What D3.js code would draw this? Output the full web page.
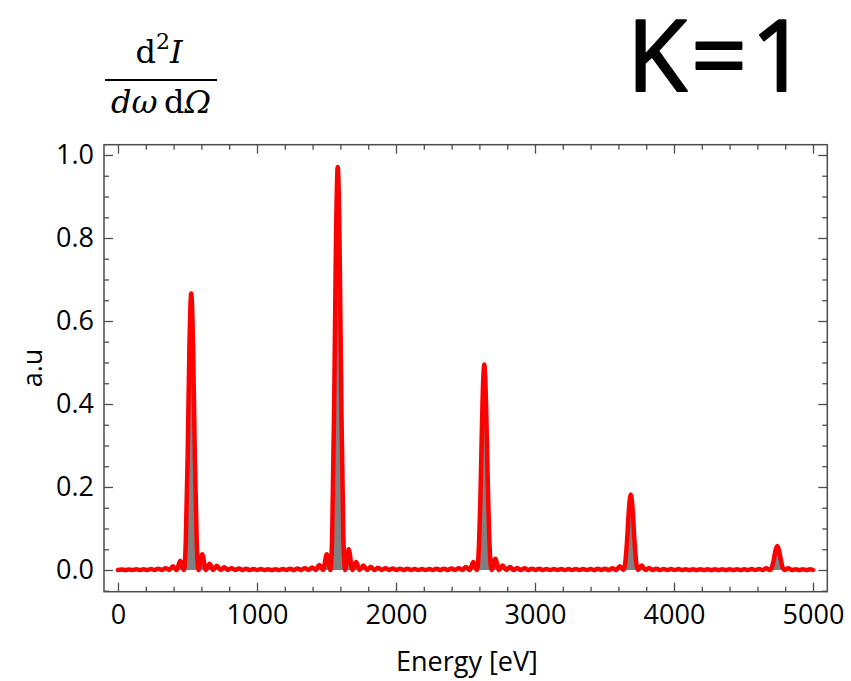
<!DOCTYPE html>
<html>
<head>
<meta charset="utf-8">
<script src="https://cdn.jsdelivr.net/npm/d3@7/dist/d3.min.js"></script>
<style>
  html, body { margin: 0; padding: 0; background: #fff; }
  svg { display: block; }
</style>
</head>
<body>
<svg id="chart" width="851" height="681"></svg>
<script>
// ---- data ----
const energy = [
  0, 26, 53, 79, 105, 132, 158, 184, 211, 237, 264, 290, 316, 343, 369, 395, 422, 448, 474,
  487, 501, 514, 527, 540, 553, 567,
  580, 606, 632, 659, 685, 711, 738, 764, 791, 817, 843, 870, 896, 922, 949, 975, 1001, 1028,
  1054, 1080, 1107, 1133, 1159, 1186, 1212, 1238, 1265, 1291, 1318, 1344, 1370, 1397, 1423,
  1449, 1476, 1502, 1528,
  1541, 1555, 1568, 1581, 1594, 1607, 1621,
  1634, 1660, 1686, 1713, 1739, 1765, 1792, 1818, 1845, 1871, 1897, 1924, 1950, 1976, 2003,
  2029, 2055, 2082, 2108, 2134, 2161, 2187, 2213, 2240, 2266, 2292, 2319, 2345, 2372, 2398,
  2424, 2451, 2477, 2503, 2530, 2556, 2582,
  2595, 2609, 2622, 2635, 2648, 2661, 2675,
  2688, 2714, 2741, 2767, 2793, 2820, 2846, 2872, 2899, 2925, 2951, 2978, 3004, 3030, 3057,
  3083, 3109, 3136, 3162, 3188, 3215, 3241, 3267, 3294, 3320, 3346, 3373, 3399, 3425, 3452,
  3478, 3504, 3531, 3557, 3583, 3610, 3636,
  3649, 3663, 3676, 3689, 3702, 3715, 3729,
  3742, 3768, 3794, 3821, 3847, 3873, 3900, 3926, 3953, 3979, 4005, 4032, 4058, 4084, 4111,
  4137, 4163, 4190, 4216, 4242, 4269, 4295, 4321, 4348, 4374, 4400, 4427, 4453, 4480, 4506,
  4532, 4559, 4585, 4611, 4638, 4664, 4690,
  4703, 4717, 4730, 4743, 4756, 4769, 4783,
  4796, 4822, 4848, 4875, 4901, 4927, 4954, 4980, 5000
];
const intensity = [
  0, 0.001, 0, 0.001, 0, 0.0015, 0, 0.002, 0, 0.0025, 0, 0.003, 0, 0.0045, 0, 0.009, 0, 0.0225, 0,
  0.06, 0.27, 0.54, 0.666, 0.54, 0.27, 0.06,
  0, 0.038, 0, 0.015, 0, 0.010, 0, 0.0065, 0, 0.0045, 0, 0.0035, 0, 0.003, 0, 0.0025, 0, 0.0025,
  0, 0.002, 0, 0.002, 0, 0.0025, 0, 0.003, 0, 0.0035, 0, 0.0045, 0, 0.006, 0,
  0.012, 0, 0.038, 0,
  0.087, 0.393, 0.787, 0.971, 0.787, 0.393, 0.087,
  0, 0.050, 0, 0.019, 0, 0.011, 0, 0.008, 0, 0.0056, 0, 0.0045, 0, 0.0035, 0,
  0.003, 0, 0.003, 0, 0.0025, 0, 0.0025, 0, 0.0025, 0, 0.003, 0, 0.003, 0, 0.0035,
  0, 0.0045, 0, 0.007, 0, 0.019, 0,
  0.045, 0.20, 0.40, 0.495, 0.40, 0.20, 0.045,
  0, 0.027, 0, 0.011, 0, 0.007, 0, 0.005, 0, 0.004, 0, 0.003, 0, 0.003, 0,
  0.0025, 0, 0.0025, 0, 0.0025, 0, 0.0025, 0, 0.0025, 0, 0.0025, 0, 0.0025, 0, 0.003,
  0, 0.003, 0, 0.004, 0, 0.009, 0,
  0.016, 0.074, 0.148, 0.182, 0.148, 0.074, 0.016,
  0, 0.011, 0, 0.005, 0, 0.003, 0, 0.0025, 0, 0.0025, 0, 0.0025, 0, 0.002, 0,
  0.002, 0, 0.002, 0, 0.002, 0, 0.002, 0, 0.002, 0, 0.002, 0, 0.002, 0, 0.002,
  0, 0.0025, 0, 0.0025, 0, 0.004, 0,
  0.005, 0.0235, 0.047, 0.058, 0.047, 0.0235, 0.005,
  0, 0.004, 0, 0.002, 0, 0.002, 0, 0.002, 0
];
const xMajorTicks = [0, 1000, 2000, 3000, 4000, 5000];
const xMinorTicks = d3.range(0, 5001, 200);
const yMajorTicks = [0, 0.2, 0.4, 0.6, 0.8, 1.0];
const yMinorTicks = d3.range(-1, 21).map(i => +(i * 0.05).toFixed(2));
const xLabel = "Energy [eV]";
const yLabel = "a.u";
const bigLabel = "K=1";

// ---- layout ----
const svg = d3.select("#chart");
const frame = { left: 104, right: 827.3, top: 144.7, bottom: 591.7 };
const x = d3.scaleLinear().domain([-100.7, 5102.9]).range([frame.left, frame.right]);
const y = d3.scaleLinear().domain([-0.0523, 1.0248]).range([frame.bottom, frame.top]);
const frameColor = "#4d4d4d";
const font = "'Open Sans', 'Noto Sans', sans-serif";

const pts = energy.map((e, i) => [e, intensity[i]]);

svg.append("defs").append("clipPath").attr("id", "clip")
  .append("rect").attr("x", frame.left).attr("y", frame.top)
  .attr("width", frame.right - frame.left).attr("height", frame.bottom - frame.top);

const plot = svg.append("g").attr("clip-path", "url(#clip)");
plot.append("path")
  .datum(pts)
  .attr("fill", "#808080")
  .attr("d", d3.area().x(d => x(d[0])).y0(y(0)).y1(d => y(d[1])).curve(d3.curveMonotoneX));
plot.append("path")
  .datum(pts)
  .attr("fill", "none")
  .attr("stroke", "#ff0000")
  .attr("stroke-width", 4.5)
  .attr("stroke-linejoin", "round")
  .attr("stroke-linecap", "round")
  .attr("d", d3.line().x(d => x(d[0])).y(d => y(d[1])).curve(d3.curveMonotoneX));

function styleAxis(g) {
  g.select(".domain").remove();
  g.selectAll(".tick line").attr("stroke", frameColor).attr("stroke-width", 1.3);
  g.selectAll("text").attr("font-family", font).attr("font-size", 27).attr("fill", "#000");
}
const fmtY = d3.format(".1f");
const xMinorOnly = xMinorTicks.filter(v => !xMajorTicks.includes(v));
const yMinorOnly = yMinorTicks.filter(v => !yMajorTicks.some(m => Math.abs(m - v) < 1e-9));
// bottom
svg.append("g").attr("transform", `translate(0,${frame.bottom})`)
  .call(d3.axisBottom(x).tickValues(xMinorOnly).tickSize(-5).tickFormat(""))
  .call(styleAxis);
svg.append("g").attr("transform", `translate(0,${frame.bottom})`)
  .call(d3.axisBottom(x).tickValues(xMajorTicks).tickSize(-9).tickPadding(13).tickFormat(d3.format("d")))
  .call(styleAxis);
// top
svg.append("g").attr("transform", `translate(0,${frame.top})`)
  .call(d3.axisTop(x).tickValues(xMinorOnly).tickSize(-5).tickFormat(""))
  .call(styleAxis);
svg.append("g").attr("transform", `translate(0,${frame.top})`)
  .call(d3.axisTop(x).tickValues(xMajorTicks).tickSize(-9).tickFormat(""))
  .call(styleAxis);
// left
svg.append("g").attr("transform", `translate(${frame.left},0)`)
  .call(d3.axisLeft(y).tickValues(yMinorOnly).tickSize(-5).tickFormat(""))
  .call(styleAxis);
svg.append("g").attr("transform", `translate(${frame.left},0)`)
  .call(d3.axisLeft(y).tickValues(yMajorTicks).tickSize(-9).tickPadding(10).tickFormat(fmtY))
  .call(styleAxis);
// right
svg.append("g").attr("transform", `translate(${frame.right},0)`)
  .call(d3.axisRight(y).tickValues(yMinorOnly).tickSize(-5).tickFormat(""))
  .call(styleAxis);
svg.append("g").attr("transform", `translate(${frame.right},0)`)
  .call(d3.axisRight(y).tickValues(yMajorTicks).tickSize(-9).tickFormat(""))
  .call(styleAxis);

svg.append("rect")
  .attr("x", frame.left).attr("y", frame.top)
  .attr("width", frame.right - frame.left).attr("height", frame.bottom - frame.top)
  .attr("fill", "none").attr("stroke", frameColor).attr("stroke-width", 1.5);

// axis titles
svg.append("text")
  .attr("x", 467).attr("y", 671)
  .attr("text-anchor", "middle")
  .attr("font-family", font).attr("font-size", 27).attr("fill", "#000")
  .text(xLabel);
svg.append("text")
  .attr("transform", "translate(42,368) rotate(-90)")
  .attr("text-anchor", "middle")
  .attr("font-family", font).attr("font-size", 27).attr("fill", "#000")
  .text(yLabel);

// big label
svg.append("text")
  .attr("x", 719).attr("y", 91)
  .attr("text-anchor", "middle")
  .attr("font-family", font).attr("font-size", 98).attr("letter-spacing", 4)
  .attr("fill", "#000").attr("stroke", "#000").attr("stroke-width", 2)
  .attr("stroke-linejoin", "round")
  .text(bigLabel);

// fraction d²I / (dω dΩ)
const serif = "'DejaVu Serif', 'Liberation Serif', serif";
const num = svg.append("text")
  .attr("x", 159).attr("y", 63)
  .attr("text-anchor", "middle")
  .attr("font-family", serif).attr("font-size", 32).attr("fill", "#000");
num.append("tspan").text("d");
num.append("tspan").attr("dy", -14).attr("font-size", 22).text("2");
num.append("tspan").attr("dy", 14).attr("font-style", "italic").text("I");
svg.append("line")
  .attr("x1", 105).attr("x2", 217).attr("y1", 80).attr("y2", 80)
  .attr("stroke", "#000").attr("stroke-width", 2.2);
const den = svg.append("text")
  .attr("x", 161).attr("y", 113)
  .attr("text-anchor", "middle")
  .attr("font-family", serif).attr("font-size", 32).attr("fill", "#000");
den.append("tspan").attr("font-style", "italic").text("d");
den.append("tspan").attr("font-style", "italic").text("\u03c9");
den.append("tspan").text("\u2009d");
den.append("tspan").attr("font-style", "italic").text("\u03a9");
</script>
</body>
</html>
